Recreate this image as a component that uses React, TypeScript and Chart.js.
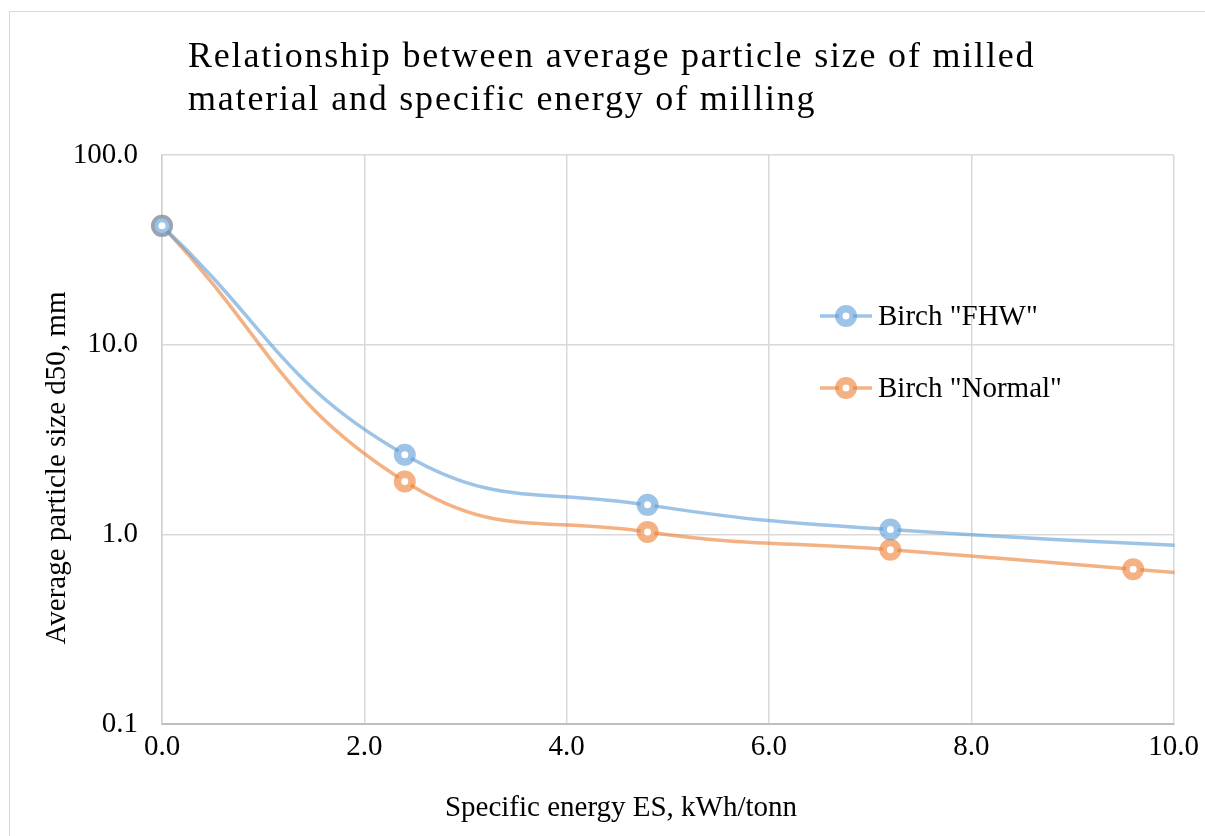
import React, { useEffect, useRef } from "react";
import { Chart, registerables } from "chart.js";

Chart.register(...registerables);

const titleLines = [
  "Relationship between average particle size of milled",
  "material and specific energy of milling",
];
const xAxisTitle = "Specific energy ES, kWh/tonn";
const yAxisTitle = "Average particle size d50, mm";

const fhwLabel = 'Birch "FHW"';
const fhwEnergy = [0, 2.4, 4.8, 7.2, 12.0];
const fhwSize = [42.3, 2.63, 1.43, 1.06, 0.78];

const normalLabel = 'Birch "Normal"';
const normalEnergy = [0, 2.4, 4.8, 7.2, 9.6, 12.0];
const normalSize = [42.3, 1.9, 1.03, 0.83, 0.655, 0.52];

const yTickValues = [0.1, 1, 10, 100];
const xMin = 0;
const xMax = 10;
const xStep = 2;

const BLUE = "rgba(91,155,213,0.6)";
const ORANGE = "rgba(237,125,49,0.6)";
const SERIF = "'Times New Roman', 'Liberation Serif', serif";

const textPlugin = {
  id: "customText",
  afterDraw(chart: any) {
    const ctx = chart.ctx as CanvasRenderingContext2D;
    const area = chart.chartArea;
    ctx.save();
    // Title
    ctx.fillStyle = "#000";
    ctx.font = `36px ${SERIF}`;
    (ctx as any).letterSpacing = "1.8px";
    ctx.textAlign = "left";
    ctx.textBaseline = "alphabetic";
    ctx.fillText(titleLines[0], 188, 67);
    ctx.fillText(titleLines[1], 188, 110);
    (ctx as any).letterSpacing = "0px";

    // X axis title
    ctx.font = `29px ${SERIF}`;
    ctx.textAlign = "center";
    ctx.textBaseline = "middle";
    ctx.fillText(xAxisTitle, 621, 808);

    // Y axis title
    ctx.save();
    ctx.translate(57, 468);
    ctx.rotate(-Math.PI / 2);
    ctx.fillText(yAxisTitle, 0, 0);
    ctx.restore();

    // Legend
    const items = [
      { label: fhwLabel, color: BLUE, y: 316 },
      { label: normalLabel, color: ORANGE, y: 388 },
    ];
    items.forEach((it) => {
      ctx.strokeStyle = it.color;
      ctx.lineWidth = 3.5;
      ctx.beginPath();
      ctx.moveTo(820, it.y);
      ctx.lineTo(872, it.y);
      ctx.stroke();
      ctx.beginPath();
      ctx.arc(846, it.y, 7.25, 0, Math.PI * 2);
      ctx.fillStyle = "#fff";
      ctx.fill();
      ctx.lineWidth = 7.5;
      ctx.stroke();
      ctx.fillStyle = "#000";
      ctx.font = `29px ${SERIF}`;
      ctx.textAlign = "left";
      ctx.textBaseline = "middle";
      ctx.fillText(it.label, 878, it.y + 1);
    });
    ctx.restore();
  },
};

export default function App() {
  const canvasRef = useRef<HTMLCanvasElement | null>(null);

  useEffect(() => {
    if (!canvasRef.current) return;
    const fhwData = fhwEnergy.map((x, i) => ({ x, y: fhwSize[i] }));
    const normalData = normalEnergy.map((x, i) => ({ x, y: normalSize[i] }));
    const common = {
      borderWidth: 3.5,
      pointRadius: 7.25,
      pointHoverRadius: 7.25,
      pointBorderWidth: 7.5,
      pointBackgroundColor: "#fff",
      tension: 0.45,
      fill: false,
      clip: { left: 20, top: 20, right: 1, bottom: 20 },
    };
    const chart = new Chart(canvasRef.current, {
      type: "line",
      data: {
        datasets: [
          {
            label: fhwLabel,
            data: fhwData,
            borderColor: BLUE,
            pointBorderColor: BLUE,
            ...common,
          },
          {
            label: normalLabel,
            data: normalData,
            borderColor: ORANGE,
            pointBorderColor: ORANGE,
            ...common,
          },
        ] as any,
      },
      options: {
        animation: false,
        responsive: false,
        maintainAspectRatio: false,
        layout: { padding: { left: 30, right: 30, top: 155, bottom: 0 } },
        plugins: {
          legend: { display: false },
          title: { display: false },
          tooltip: { enabled: false },
        },
        scales: {
          x: {
            type: "linear",
            min: xMin,
            max: xMax,
            ticks: {
              stepSize: xStep,
              padding: 6,
              color: "#000",
              font: { family: SERIF, size: 29 },
              callback: (v: any) => Number(v).toFixed(1),
            },
            grid: { color: "#d9d9d9", lineWidth: 1.5, drawTicks: false },
            border: { color: "#bfbfbf", width: 2 },
            afterFit: (s: any) => {
              s.height = 112;
            },
          },
          y: {
            type: "logarithmic",
            min: 0.1,
            max: 100,
            ticks: {
              padding: 24,
              color: "#000",
              font: { family: SERIF, size: 29 },
              callback: (v: any) => Number(v).toFixed(1),
            },
            afterBuildTicks: (s: any) => {
              s.ticks = yTickValues.map((v) => ({ value: v }));
            },
            grid: { color: "#d9d9d9", lineWidth: 1.5, drawTicks: false },
            border: { color: "#d0d0d0", width: 1.5 },
            afterFit: (s: any) => {
              s.width = 132;
            },
          },
        },
      } as any,
      plugins: [textPlugin],
    });
    return () => chart.destroy();
  }, []);

  return (
    <div style={{ position: "absolute", left: 0, top: 0, width: 1205, height: 836, background: "#fff", overflow: "hidden" }}>
      <div
        style={{
          position: "absolute",
          left: 9,
          top: 11,
          width: 1300,
          height: 900,
          border: "1.5px solid #d9d9d9",
          boxSizing: "border-box",
        }}
      />
      <canvas ref={canvasRef} width={1205} height={836} style={{ position: "absolute", left: 0, top: 0 }} />
    </div>
  );
}
